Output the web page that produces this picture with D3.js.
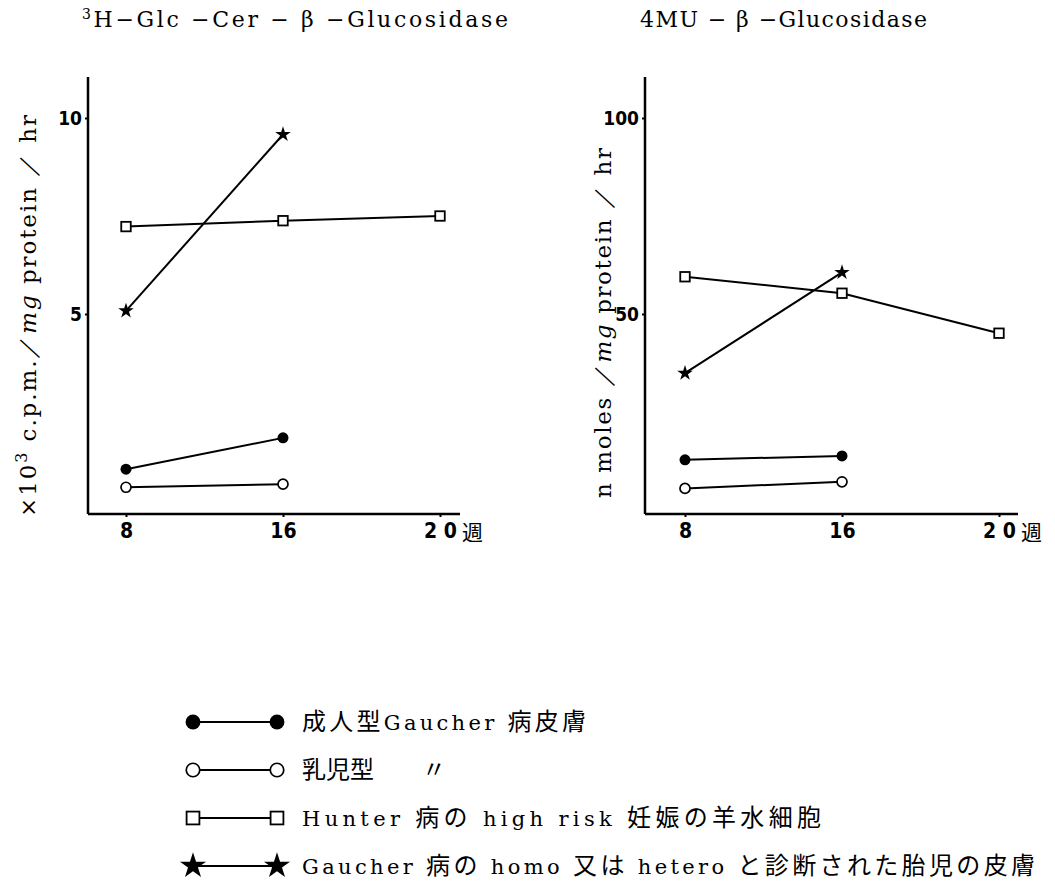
<!DOCTYPE html>
<html lang="ja">
<head>
<meta charset="utf-8" />
<title>Glucosidase activity</title>
<script src="https://d3js.org/d3.v7.min.js"></script>
<style>
  html, body { margin: 0; padding: 0; background: #fff; }
  svg { display: block; }
  .title { font-family: "DejaVu Serif", "Liberation Serif", serif; font-size: 22px; }
  .ylab { font-family: "DejaVu Serif", "Liberation Serif", serif; font-size: 23px; }
  .tick text { font-family: "Liberation Sans Narrow", "DejaVu Sans Condensed", sans-serif; font-weight: bold; }
  .legend text { font-family: "DejaVu Serif", serif; font-size: 21px; }
  .jp { font-family: "Noto Sans CJK JP", sans-serif; }
</style>
</head>
<body>
<script>
// weeks (x categories)
const weeks = ["8", "16", "20"];

// left panel: 3H-Glc-Cer-β-Glucosidase (×10³ c.p.m./mg protein/hr)
const leftAdult  = [1.04, 1.84];        // 成人型Gaucher病皮膚
const leftInfant = [0.58, 0.66];        // 乳児型
const leftHunter = [7.23, 7.38, 7.5];   // Hunter病 high risk
const leftFetal  = [5.08, 9.58];        // Gaucher病 胎児皮膚

// right panel: 4MU-β-Glucosidase (n moles/mg protein/hr)
const rightAdult  = [12.8, 13.8];
const rightInfant = [5.5, 7.2];
const rightHunter = [59.5, 55.3, 45.1];
const rightFetal  = [34.9, 60.6];

const leftTicks = [5, 10];
const rightTicks = [50, 100];

const legendLabels = [
  "成人型Gaucher 病皮膚",
  "乳児型　　〃",
  "Hunter 病の high risk 妊娠の羊水細胞",
  "Gaucher 病の homo 又は hetero と診断された胎児の皮膚"
];
const legendKinds = ["filled", "open", "square", "star"];
// measured text widths in the original legend (0 = leave natural)
const legendWidths = [284, 0, 519, 733];

const W = 1055, H = 883;
const svg = d3.select("body").append("svg").attr("width", W).attr("height", H);

function drawMarker(g, kind, x, y, big) {
  const k = big ? 1.35 : 1;
  if (kind === "filled") {
    g.append("circle").attr("cx", x).attr("cy", y).attr("r", 5.5 * k).attr("fill", "#000");
  } else if (kind === "open") {
    g.append("circle").attr("cx", x).attr("cy", y).attr("r", 5 * k)
      .attr("fill", "#fff").attr("stroke", "#000").attr("stroke-width", 1.7);
  } else if (kind === "square") {
    const s = 9.5 * k;
    g.append("rect").attr("x", x - s / 2).attr("y", y - s / 2).attr("width", s).attr("height", s)
      .attr("fill", "#fff").attr("stroke", "#000").attr("stroke-width", 1.8);
  } else {
    g.append("path").attr("transform", `translate(${x},${y})`)
      .attr("d", d3.symbol().type(d3.symbolStar).size(big ? 210 : 75)()).attr("fill", "#000");
  }
}

function panel(opts) {
  const g = svg.append("g");
  const x = d3.scalePoint().domain(weeks).range([opts.x0, opts.x0 + 314]);
  const y = d3.scaleLinear().domain([0, opts.max]).range([510, 118]);

  // axes
  g.append("line").attr("x1", opts.ax).attr("x2", opts.ax).attr("y1", 77).attr("y2", 514)
    .attr("stroke", "#000").attr("stroke-width", 2.5);
  g.append("line").attr("x1", opts.ax).attr("x2", opts.axEnd).attr("y1", 514).attr("y2", 514)
    .attr("stroke", "#000").attr("stroke-width", 2.5);

  const yAxis = g.append("g").attr("transform", `translate(${opts.ax},0)`)
    .call(d3.axisLeft(y).tickValues(opts.ticks).tickSize(3).tickPadding(3));
  yAxis.select(".domain").remove();
  yAxis.selectAll(".tick line").attr("stroke-width", 2);
  yAxis.selectAll(".tick text").attr("font-size", 19);

  const xAxis = g.append("g").attr("transform", "translate(0,514)")
    .call(d3.axisBottom(x).tickSize(3).tickPadding(6).tickFormat(d => d === "20" ? "2 0" : d));
  xAxis.select(".domain").remove();
  xAxis.selectAll(".tick line").attr("stroke-width", 2);
  xAxis.selectAll(".tick text").attr("font-size", 21);
  g.append("text").attr("class", "jp").attr("x", x("20") + 22).attr("y", 540)
    .attr("font-size", 21).text("週");

  const series = [
    ["filled", opts.adult], ["open", opts.infant], ["square", opts.hunter], ["star", opts.fetal]
  ];
  const line = d3.line().x((d, i) => x(weeks[i])).y(d => y(d));
  series.forEach(([kind, vals]) => {
    g.append("path").attr("d", line(vals)).attr("fill", "none")
      .attr("stroke", "#000").attr("stroke-width", 2);
    vals.forEach((v, i) => drawMarker(g, kind, x(weeks[i]), y(v), false));
  });

  g.append("text").attr("class", "title").attr("x", opts.titleX).attr("y", 27)
    .attr("textLength", opts.titleW).attr("lengthAdjust", "spacing").html(opts.title);

  const yl = g.append("text").attr("class", "ylab")
    .attr("transform", `translate(${opts.labelX},${opts.labelY}) rotate(-90)`)
    .attr("text-anchor", "middle")
    .attr("textLength", opts.labelW).attr("lengthAdjust", "spacing");
  opts.ylab(yl);
}

panel({
  x0: 126, ax: 88, axEnd: 460, max: 10, ticks: leftTicks,
  adult: leftAdult, infant: leftInfant, hunter: leftHunter, fetal: leftFetal,
  titleX: 82, titleW: 426,
  title: '<tspan font-size="14" dy="-8">3</tspan><tspan dy="8">H−Glc −Cer − β −Glucosidase</tspan>',
  labelX: 36, labelY: 316, labelW: 402,
  ylab: t => {
    t.append("tspan").text("×10");
    t.append("tspan").attr("font-size", 16).attr("dy", -9).text("3");
    t.append("tspan").attr("dy", 9).text(" c.p.m.／");
    t.append("tspan").attr("font-style", "italic").text("mg");
    t.append("tspan").text(" protein ／ hr");
  }
});

panel({
  x0: 685, ax: 645, axEnd: 1018, max: 100, ticks: rightTicks,
  adult: rightAdult, infant: rightInfant, hunter: rightHunter, fetal: rightFetal,
  titleX: 640, titleW: 287,
  title: '4MU − β −Glucosidase',
  labelX: 611, labelY: 323, labelW: 350,
  ylab: t => {
    t.append("tspan").text("n moles ／");
    t.append("tspan").attr("font-style", "italic").text("mg");
    t.append("tspan").text(" protein ／ hr");
  }
});

// legend
const lg = svg.append("g").attr("class", "legend");
const legendY = d3.scalePoint().domain(d3.range(legendLabels.length)).range([722, 866]);
legendLabels.forEach((lab, i) => {
  const yy = legendY(i);
  lg.append("line").attr("x1", 193).attr("x2", 277).attr("y1", yy).attr("y2", yy)
    .attr("stroke", "#000").attr("stroke-width", 2);
  drawMarker(lg, legendKinds[i], 193, yy, true);
  drawMarker(lg, legendKinds[i], 277, yy, true);
  const t = lg.append("text").attr("x", 302).attr("y", yy + 8);
  if (legendWidths[i]) t.attr("textLength", legendWidths[i]).attr("lengthAdjust", "spacing");
  // split into CJK and latin runs so each uses a suitable face
  lab.match(/[\u3000-\u9fff\uff00-\uffef]+|[^\u3000-\u9fff\uff00-\uffef]+/g).forEach(run => {
    const cjk = /[\u3000-\u9fff\uff00-\uffef]/.test(run);
    t.append("tspan").attr("class", cjk ? "jp" : null)
      .attr("font-size", cjk ? 24 : 21).text(run);
  });
});
</script>
</body>
</html>
